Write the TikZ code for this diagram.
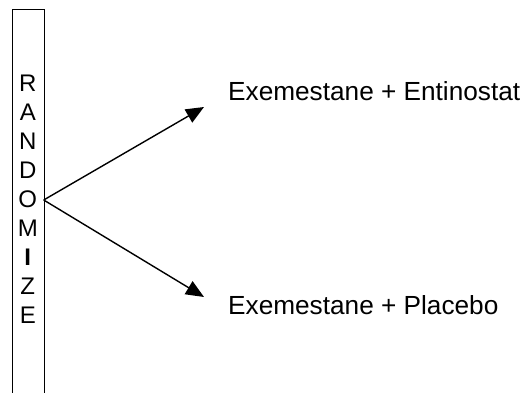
\documentclass[tikz,border=0pt]{standalone}
\usepackage{fontspec}
\setmainfont{Liberation Sans}
\usetikzlibrary{arrows.meta}
\tikzset{
  randbox/.style={draw=black, line width=1pt, minimum width=31.5pt, minimum height=420pt, anchor=north west, inner sep=0pt},
  letters/.style={font=\fontsize{24}{29}\selectfont, align=center, inner sep=0pt},
  armlabel/.style={font=\fontsize{26.2}{30}\selectfont, anchor=base west, inner sep=0pt},
  arm/.style={line width=1.4pt, -{Triangle[length=18pt,width=15pt]}}
}
\begin{document}
\begin{tikzpicture}[x=1pt,y=1pt]
\useasboundingbox (0,0) rectangle (528,392);
\clip (0,0) rectangle (528,392);
\node[randbox] (box) at (12,383) {};
\node[letters] (letters) at (27.8,193) {R\\A\\N\\D\\O\\M\\\textbf{I}\\Z\\E};
\coordinate (apex) at (43.7,192);
\coordinate (tipup) at (204,285);
\coordinate (tipdown) at (204,95);
\node[armlabel] (t1) at (228,291) {Exemestane + Entinostat};
\node[armlabel] (t2) at (228,78) {Exemestane + Placebo};
\draw[arm] (apex) -- (tipup);
\draw[arm] (apex) -- (tipdown);
\end{tikzpicture}
\end{document}
